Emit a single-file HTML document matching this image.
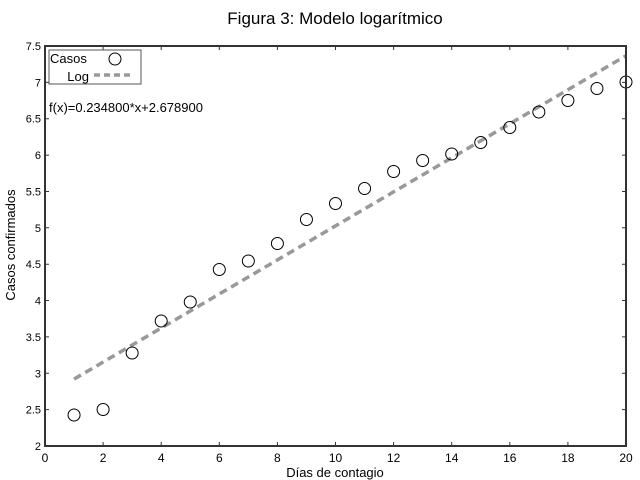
<!DOCTYPE html>
<html><head><meta charset="utf-8"><style>body{margin:0;background:#fff}svg{display:block}text{font-family:"Liberation Sans",sans-serif}</style></head><body>
<svg width="640" height="480" viewBox="0 0 640 480">
<text x="335" y="24" font-size="17" text-anchor="middle">Figura 3: Modelo logarítmico</text>
<line x1="74.05" y1="379.1" x2="626" y2="55.7" stroke="#999" stroke-width="3.5" stroke-dasharray="8,5"/>
<g fill="none" stroke="#000" stroke-width="1">
<circle cx="74.05" cy="415" r="6"/><circle cx="103.1" cy="409.5" r="6"/><circle cx="132.15" cy="353" r="6"/><circle cx="161.2" cy="321" r="6"/><circle cx="190.25" cy="302" r="6"/><circle cx="219.3" cy="269.5" r="6"/><circle cx="248.35" cy="261" r="6"/><circle cx="277.4" cy="243.5" r="6"/><circle cx="306.45" cy="219.5" r="6"/><circle cx="335.5" cy="203.5" r="6"/><circle cx="364.55" cy="188.5" r="6"/><circle cx="393.6" cy="171.5" r="6"/><circle cx="422.65" cy="160.5" r="6"/><circle cx="451.7" cy="154" r="6"/><circle cx="480.75" cy="142.5" r="6"/><circle cx="509.8" cy="127.5" r="6"/><circle cx="538.85" cy="112" r="6"/><circle cx="567.9" cy="100.5" r="6"/><circle cx="596.95" cy="88.5" r="6"/><circle cx="626" cy="82" r="6"/>
</g>
<rect x="45" y="46" width="581" height="400" fill="none" stroke="#333" stroke-width="2"/>
<g stroke="#333" stroke-width="1">
<path d="M103.1 446v-4M161.2 446v-4M219.3 446v-4M277.4 446v-4M335.5 446v-4M393.6 446v-4M451.7 446v-4M509.8 446v-4M567.9 446v-4M103.1 46v4M161.2 46v4M219.3 46v4M277.4 46v4M335.5 46v4M393.6 46v4M451.7 46v4M509.8 46v4M567.9 46v4"/>
<path d="M45 409.6h4M45 373.3h4M45 336.9h4M45 300.5h4M45 264.2h4M45 227.8h4M45 191.5h4M45 155.1h4M45 118.7h4M45 82.4h4M626 409.6h-4M626 373.3h-4M626 336.9h-4M626 300.5h-4M626 264.2h-4M626 227.8h-4M626 191.5h-4M626 155.1h-4M626 118.7h-4M626 82.4h-4"/>
</g>
<g font-size="12" text-anchor="middle">
<text x="45" y="462">0</text><text x="103.1" y="462">2</text><text x="161.2" y="462">4</text><text x="219.3" y="462">6</text><text x="277.4" y="462">8</text><text x="335.5" y="462">10</text><text x="393.6" y="462">12</text><text x="451.7" y="462">14</text><text x="509.8" y="462">16</text><text x="567.9" y="462">18</text><text x="626" y="462">20</text>
</g>
<g font-size="11" text-anchor="end">
<text x="41" y="450">2</text><text x="41" y="413.6">2.5</text><text x="41" y="377.3">3</text><text x="41" y="340.9">3.5</text><text x="41" y="304.5">4</text><text x="41" y="268.2">4.5</text><text x="41" y="231.8">5</text><text x="41" y="195.5">5.5</text><text x="41" y="159.1">6</text><text x="41" y="122.7">6.5</text><text x="41" y="86.4">7</text><text x="41" y="50">7.5</text>
</g>
<text x="335" y="477" font-size="13" text-anchor="middle">Días de contagio</text>
<text transform="translate(15,245) rotate(-90)" font-size="13" text-anchor="middle">Casos confirmados</text>
<rect x="49" y="50" width="92" height="34" fill="#fff" stroke="#555" stroke-width="1"/>
<text x="50" y="63" font-size="13">Casos</text>
<circle cx="115" cy="59" r="6" fill="none" stroke="#000"/>
<text x="89" y="81" font-size="13" text-anchor="end">Log</text>
<line x1="94" y1="75" x2="133" y2="75" stroke="#999" stroke-width="3.5" stroke-dasharray="6,4"/>
<text x="49" y="112" font-size="13">f(x)=0.234800*x+2.678900</text>
</svg>
</body></html>
